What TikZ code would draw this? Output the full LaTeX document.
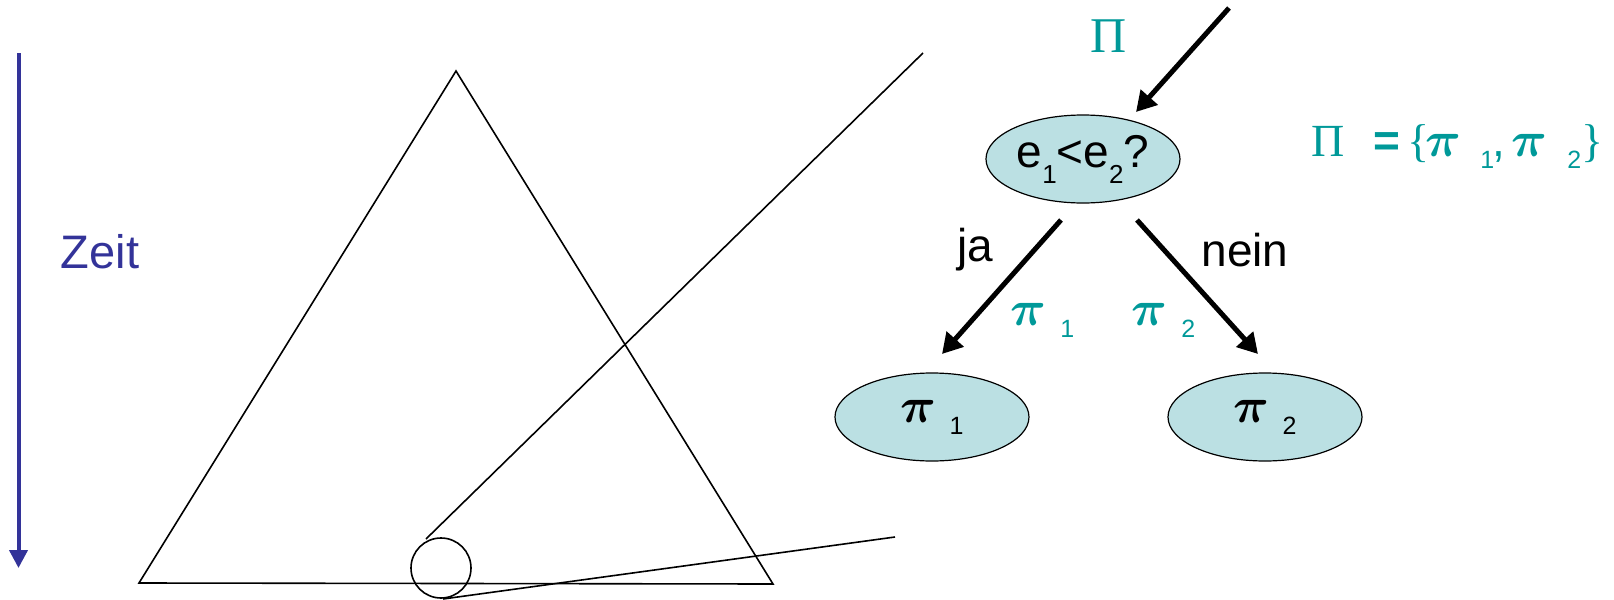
\documentclass[tikz,border=0pt]{standalone}
\usepackage{fontspec}
\usepackage{amsmath,amsbsy}
\setmainfont{Liberation Sans}
\newfontfamily\serf{Liberation Serif}
\usetikzlibrary{arrows.meta,shapes.geometric}
\definecolor{zblue}{HTML}{333399}
\definecolor{tealc}{HTML}{009999}
\definecolor{efill}{HTML}{BBE0E3}
\newcommand\subx[1]{\raisebox{-8pt}{\fontsize{13pt}{13pt}\selectfont #1}}
\newcommand\subp[1]{\raisebox{-6pt}{\fontsize{12.5pt}{13pt}\selectfont #1}}
\newcommand\pig{{\fontsize{25pt}{28pt}\selectfont$\boldsymbol{\pi}$}}
\newcommand\pis[1]{\makebox[24.5pt][l]{\pig}\subp{#1}}
\tikzset{
  thin line/.style={line width=0.8pt, black},
  bigarrow/.style={line width=2.5pt, -{Triangle[length=10pt,width=11pt]}},
  decision/.style={ellipse, draw=black, line width=0.6pt, fill=efill, minimum width=97pt, minimum height=44pt, inner sep=0pt, font=\fontsize{23pt}{26pt}\selectfont},
  leaf/.style={decision, minimum height=44pt},
  lbl/.style={inner sep=0pt, font=\fontsize{23pt}{26pt}\selectfont},
  tlbl/.style={inner sep=0pt, text=tealc, font=\fontsize{23pt}{26pt}\selectfont},
}
\begin{document}
\begin{tikzpicture}[x=0.5pt,y=-0.5pt]
\useasboundingbox (0,0) rectangle (1614,600);
% time arrow
\coordinate (t0) at (18.5,53);
\coordinate (t1) at (18.5,568);
\draw[zblue, line width=2pt, -{Triangle[length=9pt,width=9pt]}] (t0) -- (t1);
\node[lbl, text=zblue, font=\fontsize{23.5pt}{26pt}\selectfont] (zeit) at (100,252) {Zeit};
% triangle
\coordinate (apex) at (456,71);
\coordinate (bl) at (139,583);
\coordinate (br) at (773,584);
\draw[thin line] (apex) -- (bl) -- (br) -- cycle;
% long line and circle
\coordinate (l0) at (923,53);
\coordinate (l1) at (426,539);
\draw[thin line] (l0) -- (l1);
\node[circle, draw=black, line width=0.8pt, minimum size=30pt, inner sep=0pt] (circ) at (441,568) {};
\coordinate (m0) at (443,599);
\coordinate (m1) at (895,537);
\draw[thin line] (m0) -- (m1);
% decision tree
\node[decision] (e) at (1083,159) {e\subx{1}<e\subx{2}?};
\node[leaf] (p1) at (932,417) {\pis{1}};
\node[leaf] (p2) at (1265,417) {\pis{2}};
\node[tlbl, font=\serf\fontsize{25pt}{28pt}\selectfont] (Pi) at (1109,36) {Π};
\coordinate (in0) at (1229,8);
\coordinate (in1) at (1136,112);
\draw[bigarrow] (in0) -- (in1);
\coordinate (ja0) at (1061,220);
\coordinate (ja1) at (942,354);
\draw[bigarrow] (ja0) -- (ja1);
\coordinate (ne0) at (1137,220);
\coordinate (ne1) at (1258,354);
\draw[bigarrow] (ne0) -- (ne1);
\node[lbl] (ja) at (975,250) {ja};
\node[lbl] (nein) at (1245,250) {nein};
\node[tlbl, anchor=base west] (q1) at (1010,325) {\makebox[25pt][l]{\pig}\subp{1}};
\node[tlbl, anchor=base west] (q2) at (1131,325) {\makebox[25pt][l]{\pig}\subp{2}};
\node[tlbl, anchor=base west] (set) at (1311,156) {\makebox[31pt][l]{\serf Π}\makebox[17pt][l]{\bfseries =}\makebox[9pt][l]{\serf\{}\makebox[27.5pt][l]{\pig}\makebox[6pt][l]{\subp{1}}\makebox[9.5pt][l]{,}\makebox[28pt][l]{\pig}\makebox[7pt][l]{\subp{2}}{\serf\}}};
\end{tikzpicture}
\end{document}
